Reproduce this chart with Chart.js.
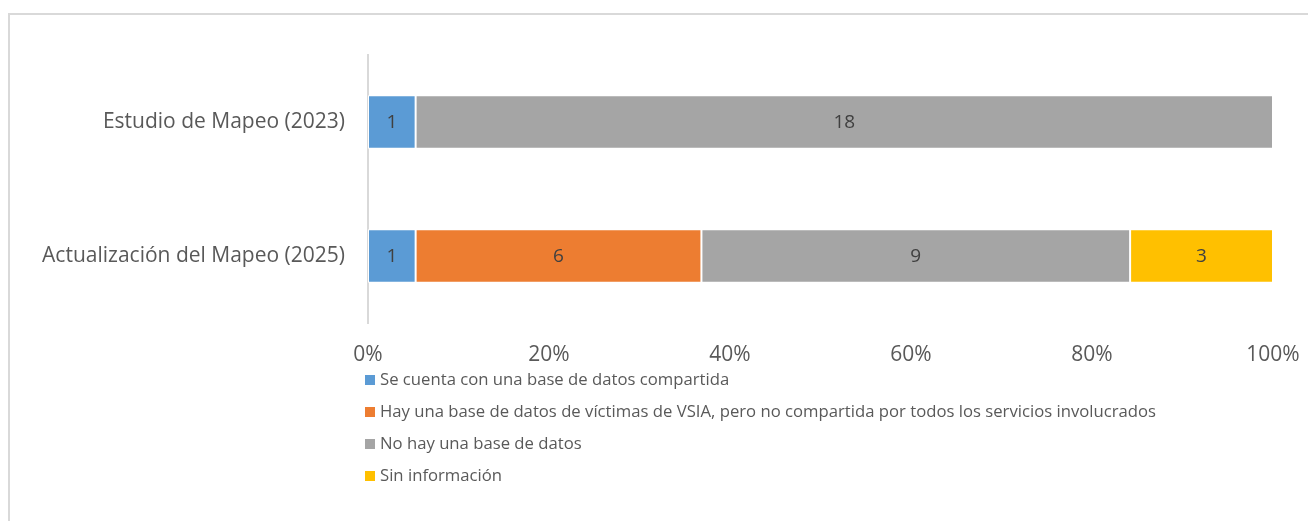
<!DOCTYPE html>
<html>
<head>
<meta charset="utf-8">
<script src="https://cdn.jsdelivr.net/npm/chart.js@4.4.1/dist/chart.umd.min.js"></script>
<style>
  html, body { margin: 0; padding: 0; background: #fff; }
  #wrap { position: relative; width: 1308px; height: 521px; overflow: hidden; }
  #frame { position: absolute; left: 8px; top: 13px; width: 1400px; height: 700px; border: 2px solid #d9d9d9; box-sizing: border-box; }
  canvas { position: absolute; left: 0; top: 0; }
  #legend { position: absolute; left: 365px; top: 366px; font-family: "Open Sans", sans-serif; font-size: 16.7px; color: #595959; }
  #legend div { height: 32px; line-height: 26px; white-space: nowrap; }
  #legend span.box { display: inline-block; width: 10px; height: 10px; margin-right: 5px; vertical-align: 0px; }
</style>
</head>
<body>
<div id="wrap">
  <div id="frame"></div>
  <canvas id="chart" width="1308" height="521"></canvas>
  <div id="legend"></div>
</div>
<script>
const categories = ['Estudio de Mapeo (2023)', 'Actualización del Mapeo (2025)'];
const seriesNames = [
  'Se cuenta con una base de datos compartida',
  'Hay una base de datos de víctimas de VSIA, pero no compartida por todos los servicios involucrados',
  'No hay una base de datos',
  'Sin información'
];
const compartida = [1, 1];
const noCompartida = [0, 6];
const noHay = [18, 9];
const sinInfo = [0, 3];
const colors = ['#5B9BD5', '#ED7D31', '#A5A5A5', '#FFC000'];
const tickLabels = ['0%', '20%', '40%', '60%', '80%', '100%'];

const counts = [compartida, noCompartida, noHay, sinInfo];
const totals = categories.map((_, i) => counts.reduce((s, arr) => s + arr[i], 0));

const textColor = '#595959';
const fontFamily = '"Open Sans", sans-serif';

// draws the count in the middle of each segment
const barLabels = {
  id: 'barLabels',
  afterDatasetsDraw(chart) {
    const ctx = chart.ctx;
    ctx.save();
    ctx.font = '19px ' + fontFamily;
    ctx.fillStyle = '#404040';
    ctx.textAlign = 'center';
    ctx.textBaseline = 'middle';
    chart.data.datasets.forEach((ds, di) => {
      chart.getDatasetMeta(di).data.forEach((bar, i) => {
        const n = ds.counts[i];
        if (!n) return;
        const x = (bar.x + bar.base) / 2;
        ctx.fillText(String(n), x, bar.y + 1);
      });
    });
    ctx.restore();
  }
};

const chart = new Chart(document.getElementById('chart'), {
  type: 'bar',
  data: {
    labels: categories,
    datasets: seriesNames.map((name, k) => ({
      label: name,
      counts: counts[k],
      data: counts[k].map((v, i) => v / totals[i] * 100),
      backgroundColor: colors[k],
      borderColor: '#ffffff',
      borderWidth: 1,
      borderSkipped: false,
      barPercentage: 0.4,
      categoryPercentage: 1
    }))
  },
  options: {
    indexAxis: 'y',
    responsive: false,
    animation: false,
    layout: { padding: { top: 55, right: 35, left: 0, bottom: 0 } },
    plugins: {
      legend: { display: false },
      tooltip: { enabled: false }
    },
    scales: {
      x: {
        stacked: true,
        min: 0,
        max: 100,
        grid: { display: false, drawTicks: false },
        border: { display: false },
        ticks: {
          stepSize: 20,
          padding: 19,
          color: textColor,
          font: { family: fontFamily, size: 21 },
          callback: (v, i) => tickLabels[i]
        },
        afterFit(scale) {
          scale.height = 198;
          scale.paddingLeft = 0;
          scale.paddingRight = 0;
        }
      },
      y: {
        stacked: true,
        grid: { display: false, drawTicks: false },
        border: { display: true, color: '#d9d9d9', width: 2 },
        ticks: {
          padding: 23,
          color: textColor,
          font: { family: fontFamily, size: 21 }
        },
        afterFit(scale) { scale.width = 368; }
      }
    }
  },
  plugins: [barLabels]
});

// legend, one item per line
const legend = document.getElementById('legend');
chart.data.datasets.forEach(ds => {
  const row = document.createElement('div');
  const box = document.createElement('span');
  box.className = 'box';
  box.style.background = ds.backgroundColor;
  row.appendChild(box);
  row.appendChild(document.createTextNode(ds.label));
  legend.appendChild(row);
});
</script>
</body>
</html>
